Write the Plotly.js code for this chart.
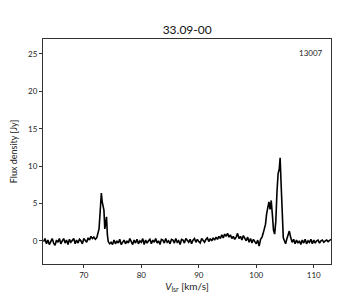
<!DOCTYPE html>
<html>
<head>
<meta charset="utf-8">
<script src="https://cdn.plot.ly/plotly-3.0.1.min.js"></script>
<style>html,body{margin:0;padding:0;background:#fff}#chart{width:360px;height:300px}</style>
</head>
<body>
<div id="chart"></div>
<script>
// Velocity channels [km/s]
const velocity = [
  63,63.25,63.5,63.75,64,64.25,64.5,64.75,65,65.25,65.5,65.75,66,66.25,66.5,66.75,67,67.25,67.5,67.75,
  68,68.25,68.5,68.75,69,69.25,69.5,69.75,70,70.25,70.5,70.75,71,71.25,71.5,71.75,
  72,72.25,72.45,72.65,72.85,73.05,73.2,73.35,73.5,73.65,73.8,73.95,74.1,74.25,74.5,
  74.75,75,75.25,75.5,75.75,76,76.25,76.5,76.75,77,77.25,77.5,77.75,78,78.25,78.5,78.75,79,79.25,79.5,
  79.75,80,80.25,80.5,80.75,81,81.25,81.5,81.75,82,82.25,82.5,82.75,83,83.25,83.5,83.75,84,84.25,84.5,
  84.75,85,85.25,85.5,85.75,86,86.25,86.5,86.75,87,87.25,87.5,87.75,88,88.25,88.5,88.75,89,89.25,89.5,
  89.75,90,90.25,90.5,90.75,91,91.25,91.5,91.75,92,92.25,92.5,92.75,93,93.25,93.5,93.75,
  94,94.25,94.5,94.75,95,95.25,95.5,95.75,96,96.25,96.5,96.75,97,97.25,97.5,97.75,98,98.25,98.5,98.75,
  99,99.25,99.5,99.75,100,100.25,100.5,100.75,101,
  101.2,101.4,101.6,101.8,102,102.2,102.4,102.6,102.8,103,103.2,103.4,103.6,103.8,104,104.15,104.3,104.5,104.7,104.9,
  105.1,105.3,105.5,105.75,106,106.25,
  106.5,106.75,107,107.25,107.5,107.75,108,108.25,108.5,108.75,109,109.25,109.5,109.75,110,110.25,110.5,110.75,
  111,111.25,111.5,111.75,112,112.25,112.5,112.75,113
];
// Flux density [Jy]
const flux = [
  -0.1,0.3,-0.4,0.1,-0.5,0.0,0.3,-0.3,-0.6,0.1,-0.2,0.3,-0.4,0.0,0.3,-0.3,0.1,-0.5,0.2,-0.2,
  0.0,0.3,-0.4,0.1,-0.3,0.2,0.0,-0.4,0.3,0.1,-0.2,0.4,0.1,0.6,0.3,0.5,
  0.2,0.4,1.0,1.6,4.0,6.4,5.2,4.4,4.1,1.6,2.6,3.2,0.8,-0.1,-0.4,
  -0.2,-0.5,0.1,-0.4,0.0,-0.3,0.2,-0.5,-0.1,0.1,-0.4,0.0,-0.3,0.3,-0.1,-0.5,0.1,-0.3,0.2,-0.4,
  0.0,-0.2,0.3,-0.5,0.1,-0.3,0.0,0.2,-0.4,0.1,-0.2,0.3,-0.3,0.0,-0.5,0.2,0.1,-0.3,0.3,-0.2,
  0.0,-0.4,0.2,0.1,-0.3,0.3,-0.2,0.0,-0.5,0.2,0.1,-0.3,0.3,0.0,-0.2,0.2,-0.4,0.1,0.3,-0.2,
  0.2,-0.1,-0.3,0.3,0.1,-0.2,0.2,0.4,-0.1,0.3,0.0,0.4,0.1,0.5,0.2,0.6,0.3,
  0.8,0.4,0.9,0.6,1.0,0.5,0.8,0.3,0.6,0.2,0.5,1.0,0.3,0.6,0.1,0.7,0.3,0.0,0.5,-0.2,
  0.3,-0.3,0.2,-0.1,-0.4,0.1,-0.7,0.2,0.5,
  1.0,1.5,2.2,3.6,4.5,5.2,4.2,5.4,3.5,1.4,0.9,2.6,6.5,9.0,9.6,11.1,8.0,3.0,0.4,0.0,
  -0.4,0.2,0.6,1.3,0.4,-0.2,
  0.2,-0.4,0.1,-0.3,0.0,-0.5,0.1,-0.3,0.2,-0.4,0.0,-0.2,0.2,-0.4,0.1,-0.3,0.0,0.1,
  -0.3,0.0,0.1,-0.2,0.0,0.1,-0.1,0.1,0.2
];
const xTicks = [70, 80, 90, 100, 110];
const yTicks = [0, 5, 10, 15, 20, 25];
const titleText = "33.09-00";
const labelText = "13007";

const font = "Lato, 'Open Sans', sans-serif";
Plotly.newPlot("chart", [{
  x: velocity, y: flux, type: "scatter", mode: "lines",
  line: {color: "#000", width: 1.6}, hoverinfo: "skip"
}], {
  width: 360, height: 300,
  margin: {l: 43, r: 29, t: 39, b: 36},
  paper_bgcolor: "#fff", plot_bgcolor: "#fff",
  showlegend: false,
  font: {family: font, color: "#222", size: 8},
  title: {text: titleText, x: 0.52, xanchor: "center", y: 0.9, yanchor: "middle", font: {family: font, size: 12, color: "#111"}},
  xaxis: {
    range: [62.9, 113], tickvals: xTicks, ticks: "outside", ticklen: 3, tickcolor: "#333",
    showline: true, linecolor: "#333", linewidth: 1, mirror: true, showgrid: false, zeroline: false,
    tickfont: {size: 8}, title: {text: "<i>V</i><sub>lsr</sub> [km/s]", font: {size: 10}, standoff: 3}
  },
  yaxis: {
    range: [-3.1, 27], tickvals: yTicks, ticks: "outside", ticklen: 3, tickcolor: "#333",
    showline: true, linecolor: "#333", linewidth: 1, mirror: true, showgrid: false, zeroline: false,
    tickfont: {size: 8}, title: {text: "Flux density [Jy]", font: {size: 9}, standoff: 8}
  },
  annotations: [{text: labelText, xref: "paper", yref: "paper", x: 0.98, y: 0.97, xanchor: "right", yanchor: "top", showarrow: false, font: {size: 8, color: "#222"}}]
}, {staticPlot: true, displayModeBar: false});
</script>
</body>
</html>
